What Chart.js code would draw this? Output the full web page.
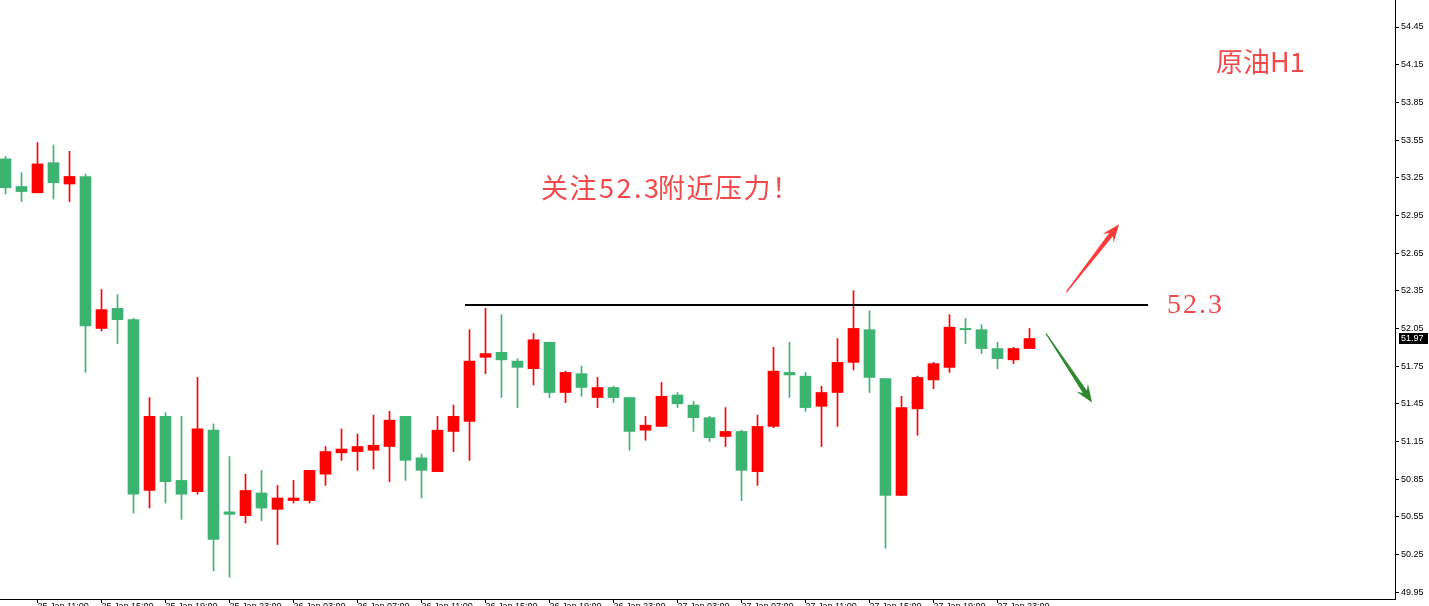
<!DOCTYPE html>
<html>
<head>
<meta charset="utf-8">
<script src="https://cdn.jsdelivr.net/npm/chart.js@4.4.1/dist/chart.umd.min.js"></script>
<style>
  html, body { margin: 0; padding: 0; background: #fff; overflow: hidden; }
  canvas { display: block; }
</style>
</head>
<body>
<canvas id="chart" width="1429" height="606"></canvas>
<script>
// H1 bars, oldest first
const opens  = [53.40,53.18,53.13,53.37,53.20,53.26,52.05,52.21,52.12,50.76,51.35,50.84,50.75,51.24,50.59,50.56,50.74,50.61,50.68,50.68,50.89,51.06,51.07,51.08,51.11,51.35,51.02,50.91,51.23,51.31,51.82,51.86,51.79,51.73,51.94,51.54,51.69,51.50,51.58,51.50,51.24,51.27,51.52,51.44,51.34,51.19,51.23,50.91,51.27,51.70,51.67,51.43,51.54,51.78,52.04,51.65,50.72,51.41,51.64,51.74,52.05,52.04,51.89,51.80,51.89];
const highs  = [53.42,53.29,53.53,53.51,53.46,53.28,52.36,52.32,52.13,51.50,51.38,51.35,51.66,51.29,51.03,50.89,50.92,50.80,50.84,50.92,51.11,51.25,51.21,51.36,51.39,51.35,51.05,51.35,51.44,52.04,52.21,52.16,51.81,52.01,51.94,51.71,51.75,51.66,51.59,51.50,51.35,51.62,51.54,51.47,51.35,51.42,51.24,51.36,51.90,51.94,51.70,51.59,51.97,52.35,52.19,51.65,51.51,51.67,51.78,52.16,52.13,52.08,51.94,51.90,52.05];
const lows   = [53.12,53.06,53.13,53.08,53.06,51.70,52.03,51.93,50.58,50.62,50.66,50.53,50.73,50.12,50.07,50.50,50.52,50.33,50.66,50.66,50.80,51.00,50.92,50.93,50.83,50.84,50.70,50.91,51.07,51.00,51.69,51.50,51.42,51.60,51.50,51.46,51.51,51.42,51.46,51.08,51.16,51.27,51.42,51.23,51.15,51.11,50.68,50.80,51.26,51.50,51.39,51.11,51.27,51.72,51.54,50.30,50.72,51.20,51.57,51.70,51.93,51.85,51.73,51.77,51.89];
const closes = [53.17,53.14,53.36,53.21,53.26,52.07,52.20,52.12,50.73,51.35,50.83,50.73,51.25,50.37,50.57,50.76,50.62,50.70,50.70,50.92,51.07,51.09,51.11,51.12,51.32,51.00,50.92,51.24,51.35,51.79,51.85,51.80,51.74,51.96,51.54,51.70,51.58,51.58,51.50,51.23,51.28,51.51,51.45,51.34,51.18,51.23,50.92,51.27,51.71,51.68,51.42,51.54,51.78,52.05,51.66,50.72,51.42,51.66,51.77,52.06,52.04,51.89,51.81,51.89,51.97];

// time axis: a label every 4 bars, starting at bar 2
const timeTickBars = [2,6,10,14,18,22,26,30,34,38,42,46,50,54,58,62];
const timeLabels = ['25 Jan 11:00','25 Jan 15:00','25 Jan 19:00','25 Jan 23:00','26 Jan 03:00','26 Jan 07:00','26 Jan 11:00','26 Jan 15:00',
                    '26 Jan 19:00','26 Jan 23:00','27 Jan 03:00','27 Jan 07:00','27 Jan 11:00','27 Jan 15:00','27 Jan 19:00','27 Jan 23:00'];
const priceTicks = [54.45,54.15,53.85,53.55,53.25,52.95,52.65,52.35,52.05,51.75,51.45,51.15,50.85,50.55,50.25,49.95];

// annotations (bar index / price)
const resistLevel = 52.24;
const resistFrom = 28.72, resistTo = 71.41;
const upArrow = [66.3, 52.34, 69.6, 52.88];
const downArrow = [65.03, 52.01, 67.91, 51.46];

const UP = '#ff0000';
const DOWN = '#3cb371';
const TEXT_RED = '#f24a4a';

const idx = closes.map((_, i) => i);
const barColors = idx.map(i => closes[i] >= opens[i] ? UP : DOWN);

function drawArrow(ctx, x0, y0, x1, y1, color) {
  const dx = x1 - x0, dy = y1 - y0, L = Math.hypot(dx, dy);
  const ux = dx / L, uy = dy / L, nx = -uy, ny = ux;
  const hl = 18, hw = 7, neck = 13, sw0 = 0.6, sw1 = 2.4;
  const nkx = x1 - ux * neck, nky = y1 - uy * neck;
  const bx = x1 - ux * hl, by = y1 - uy * hl;
  ctx.fillStyle = color;
  ctx.beginPath();
  ctx.moveTo(x0 + nx * sw0, y0 + ny * sw0);
  ctx.lineTo(nkx + nx * sw1, nky + ny * sw1);
  ctx.lineTo(bx + nx * hw, by + ny * hw);
  ctx.lineTo(x1, y1);
  ctx.lineTo(bx - nx * hw, by - ny * hw);
  ctx.lineTo(nkx - nx * sw1, nky - ny * sw1);
  ctx.lineTo(x0 - nx * sw0, y0 - ny * sw0);
  ctx.closePath();
  ctx.fill();
}

const overlay = {
  id: 'overlay',
  afterDatasetsDraw(chart) {
    const { ctx, scales: { x, y } } = chart;
    ctx.save();
    // resistance line
    const ly = Math.round(y.getPixelForValue(resistLevel));
    const lx0 = x.getPixelForValue(resistFrom), lx1 = x.getPixelForValue(resistTo);
    ctx.fillStyle = '#000';
    ctx.fillRect(lx0, ly - 1, lx1 - lx0, 2);

    // arrows
    drawArrow(ctx, x.getPixelForValue(upArrow[0]), y.getPixelForValue(upArrow[1]),
              x.getPixelForValue(upArrow[2]), y.getPixelForValue(upArrow[3]), '#ff3b3b');
    drawArrow(ctx, x.getPixelForValue(downArrow[0]), y.getPixelForValue(downArrow[1]),
              x.getPixelForValue(downArrow[2]), y.getPixelForValue(downArrow[3]), '#2f8a2f');

    // texts
    ctx.fillStyle = TEXT_RED;
    ctx.textBaseline = 'middle';
    ctx.textAlign = 'left';
    ctx.font = '28px "Liberation Serif"';
    ctx.letterSpacing = '2px';
    ctx.fillText('52.3', lx1 + 19, ly + 1);

    ctx.font = '27px "Noto Sans CJK SC"';
    ctx.letterSpacing = '1.5px';
    ctx.fillText('关注', 541, 188);
    ctx.letterSpacing = '2.5px';
    ctx.fillText('52.3', 599, 188);
    ctx.letterSpacing = '1.5px';
    ctx.fillText('附近压力！', 658, 188);
    ctx.letterSpacing = '0px';
    ctx.fillText('原油H1', 1216, 62);
    ctx.restore();
  },
  afterDraw(chart) {
    const { ctx, scales: { y } } = chart;
    const last = closes[closes.length - 1];
    const py = Math.round(y.getPixelForValue(last));
    ctx.save();
    ctx.fillStyle = '#000';
    ctx.fillRect(y.left + 4, py - 5, 29, 11);
    ctx.fillStyle = '#fff';
    ctx.font = '9px "Liberation Sans"';
    ctx.textBaseline = 'middle';
    ctx.textAlign = 'left';
    ctx.fillText(last.toFixed(2), y.left + 6, py + 0.5);
    ctx.restore();
  }
};

new Chart(document.getElementById('chart'), {
  type: 'bar',
  data: {
    datasets: [
      {
        label: 'body',
        data: idx.map(i => ({ x: i, y: [opens[i], closes[i]] })),
        backgroundColor: barColors,
        barThickness: 11,
        minBarLength: 1,
        borderWidth: 0,
        grouped: false
      },
      {
        label: 'wick',
        data: idx.map(i => ({ x: i, y: [lows[i], highs[i]] })),
        backgroundColor: barColors,
        barThickness: 1,
        borderWidth: 0,
        grouped: false
      }
    ]
  },
  options: {
    responsive: false,
    animation: false,
    devicePixelRatio: 1,
    layout: { padding: 0 },
    plugins: { legend: { display: false }, tooltip: { enabled: false } },
    scales: {
      x: {
        type: 'linear',
        offset: false,
        min: -0.34375,
        max: 86.84375,
        grid: { display: true, offset: false, drawOnChartArea: false, drawTicks: true, tickLength: 4, color: '#000' },
        border: { display: true, color: '#000', width: 1 },
        ticks: {
          autoSkip: false,
          maxRotation: 0,
          align: 'start',
          padding: -2,
          color: '#000',
          font: { family: 'Liberation Sans', size: 9 },
          callback: (v) => {
            const k = timeTickBars.indexOf(v);
            return k >= 0 ? timeLabels[k] : '';
          }
        },
        afterBuildTicks: (s) => { s.ticks = timeTickBars.map(v => ({ value: v })); },
        afterFit: (s) => { s.height = 7; s.paddingLeft = 0; s.paddingRight = 0; }
      },
      y: {
        position: 'right',
        min: 49.896,
        max: 54.665,
        grid: { display: true, drawOnChartArea: false, drawTicks: true, tickLength: 4, color: '#000' },
        border: { display: true, color: '#000', width: 1 },
        ticks: {
          padding: 2,
          color: '#000',
          font: { family: 'Liberation Sans', size: 9 },
          callback: (v) => Number(v).toFixed(2)
        },
        afterBuildTicks: (s) => { s.ticks = priceTicks.map(v => ({ value: v })); },
        afterFit: (s) => { s.width = 34; s.paddingTop = 0; s.paddingBottom = 0; }
      }
    }
  },
  plugins: [overlay]
});
</script>
</body>
</html>
